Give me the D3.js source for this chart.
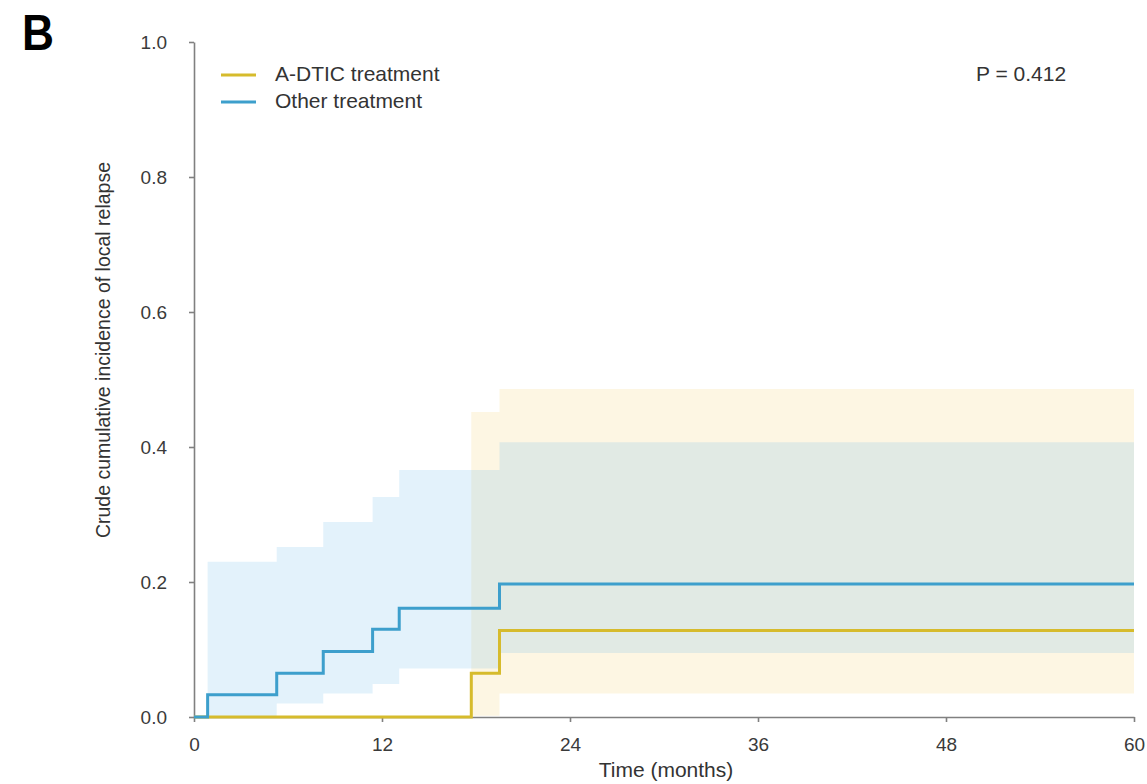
<!DOCTYPE html>
<html>
<head>
<meta charset="utf-8">
<script src="https://cdn.jsdelivr.net/npm/d3@7"></script>
<style>
  html, body { margin: 0; padding: 0; background: #fff; }
  svg { display: block; font-family: "Liberation Sans", Arial, sans-serif; }
</style>
</head>
<body>
<svg id="chart" width="1147" height="784"></svg>
<script>
// Cumulative incidence of local relapse, step estimates with 95% CI bands (months)
const groups = ["A-DTIC treatment", "Other treatment"];
const groupColors = ["#d6bb2c", "#3d9fcc"];
const bandColors = ["#f5d273", "#73beeb"];

// A-DTIC treatment
const adticTimes = [0, 17.7, 19.5, 60];
const adticEst   = [0, 0.065, 0.128, 0.128];
const adticBandTimes = [17.7, 19.5, 60];
const adticLower = [0.002, 0.035, 0.035];
const adticUpper = [0.452, 0.486, 0.486];

// Other treatment
const otherTimes = [0, 0.87, 5.28, 8.25, 11.4, 13.1, 19.5, 60];
const otherEst   = [0, 0.033, 0.065, 0.097, 0.13, 0.161, 0.197, 0.197];
const otherBandTimes = [0.87, 5.28, 8.25, 11.4, 13.1, 19.5, 60];
const otherLower = [0.001, 0.02, 0.035, 0.049, 0.072, 0.095, 0.095];
const otherUpper = [0.23, 0.252, 0.289, 0.326, 0.366, 0.407, 0.407];

const xTicks = [0, 12, 24, 36, 48, 60];
const yTicks = [0, 0.2, 0.4, 0.6, 0.8, 1.0];
const pValueLabel = "P = 0.412";

const svg = d3.select("#chart");
const plotLeft = 194, plotRight = 1134, plotTop = 42, plotBottom = 717;

const x = d3.scaleLinear().domain([0, 60]).range([plotLeft, plotRight]);
const y = d3.scaleLinear().domain([0, 1]).range([plotBottom, plotTop]);

const series = [
  { name: groups[0], color: groupColors[0], band: bandColors[0],
    times: adticTimes, est: adticEst, bt: adticBandTimes, lo: adticLower, hi: adticUpper },
  { name: groups[1], color: groupColors[1], band: bandColors[1],
    times: otherTimes, est: otherEst, bt: otherBandTimes, lo: otherLower, hi: otherUpper }
];

// confidence bands
const area = d3.area()
  .curve(d3.curveStepAfter)
  .x(d => x(d.t)).y0(d => y(d.lo)).y1(d => y(d.hi));

series.forEach(s => {
  const pts = s.bt.map((t, i) => ({ t, lo: s.lo[i], hi: s.hi[i] }));
  svg.append("path")
    .attr("d", area(pts))
    .attr("fill", s.band)
    .attr("fill-opacity", 0.2);
});

// axes
const axisColor = "#808080";
const gx = svg.append("g")
  .attr("transform", `translate(0,${plotBottom})`)
  .call(d3.axisBottom(x).tickValues(xTicks).tickSize(5).tickPadding(16).tickSizeOuter(0));
const gy = svg.append("g")
  .attr("transform", `translate(${plotLeft},0)`)
  .call(d3.axisLeft(y).tickValues(yTicks).tickFormat(d3.format(".1f")).tickSize(5).tickPadding(22).tickSizeOuter(0));

[gx, gy].forEach(g => {
  g.select(".domain").attr("stroke", axisColor).attr("stroke-width", 1.6);
  g.selectAll(".tick line").attr("stroke", axisColor).attr("stroke-width", 1.6);
  g.selectAll(".tick text")
    .attr("fill", "#3a3a3a")
    .style("font-size", "19px")
    .style("font-family", "'Liberation Sans', Arial, sans-serif");
});
gy.selectAll(".tick text").attr("dy", "0.36em");

// step curves
const line = d3.line()
  .curve(d3.curveStepAfter)
  .x(d => x(d.t)).y(d => y(d.v));

series.forEach(s => {
  const pts = s.times.map((t, i) => ({ t, v: s.est[i] }));
  svg.append("path")
    .attr("d", line(pts))
    .attr("fill", "none")
    .attr("stroke", s.color)
    .attr("stroke-width", 3);
});

// legend
const legend = svg.append("g");
series.forEach((s, i) => {
  const ly = 75 + i * 27;
  legend.append("line")
    .attr("x1", 221).attr("x2", 256)
    .attr("y1", ly).attr("y2", ly)
    .attr("stroke", s.color).attr("stroke-width", 3);
  legend.append("text")
    .attr("x", 275).attr("y", ly + 6)
    .attr("fill", "#333")
    .style("font-size", "21px")
    .text(s.name);
});

// p-value
svg.append("text")
  .attr("x", 976).attr("y", 81)
  .attr("fill", "#333")
  .style("font-size", "21px")
  .text(pValueLabel);

// axis titles
svg.append("text")
  .attr("x", 666).attr("y", 777)
  .attr("text-anchor", "middle")
  .attr("fill", "#333")
  .style("font-size", "21px")
  .text("Time (months)");

svg.append("text")
  .attr("transform", "translate(110,350) rotate(-90)")
  .attr("text-anchor", "middle")
  .attr("fill", "#333")
  .style("font-size", "19.5px")
  .text("Crude cumulative incidence of local relapse");

// panel letter
svg.append("text")
  .attr("x", 22).attr("y", 50)
  .attr("fill", "#000")
  .style("font-size", "50px")
  .style("font-weight", "bold")
  .attr("textLength", 32)
  .attr("lengthAdjust", "spacingAndGlyphs")
  .text("B");
</script>
</body>
</html>
